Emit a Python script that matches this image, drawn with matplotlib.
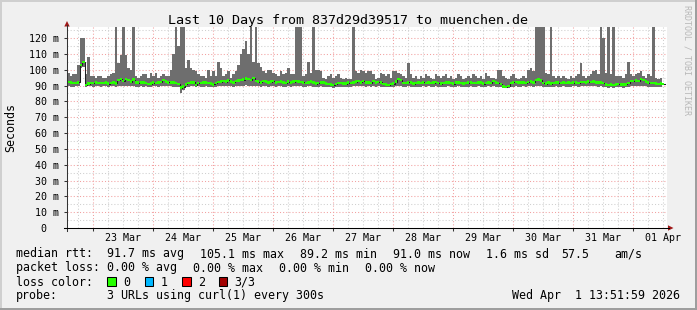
import numpy as np
import pandas as pd
import matplotlib
matplotlib.use("Agg")
import matplotlib.pyplot as plt
import matplotlib.dates as mdates
import matplotlib.ticker as mticker
from matplotlib.patches import Rectangle, Polygon
from matplotlib.lines import Line2D

nan = np.nan

# ---------------- data (hourly values, ms) ----------------
smoke_max = [
    98, 96, 97, 97, 103, 120, 120, 97, 108, 96,
    96, 95, 96, 96, 95, 95, 96, 97, 98, 150,
    104, 109, 150, 109, 101, 100, 150, 96, 95, 96,
    97, 97, 95, 98, 96, 98, 95, 96, 97, 96,
    96, 100, 110, 150, 115, 150, 150, 101, 106, 101,
    100, 99, 97, 96, 96, 95, 100, 96, 99, 96,
    105, 101, 96, 97, 99, 95, 97, 99, 103, 110,
    113, 118, 110, 150, 105, 150, 104, 102, 99, 98,
    100, 100, 98, 97, 96, 99, 97, 98, 101, 97,
    97, 150, 150, 150, 96, 97, 105, 98, 150, 100,
    100, 99, 95, 94, 96, 97, 95, 96, 97, 95,
    94, 95, 94, 94, 150, 99, 98, 100, 99, 98,
    99, 99, 97, 94, 95, 98, 97, 96, 97, 95,
    99, 99, 98, 97, 96, 95, 104, 97, 95, 96,
    94, 96, 95, 97, 96, 95, 94, 97, 96, 95,
    96, 97, 95, 96, 94, 95, 97, 96, 94, 95,
    96, 95, 97, 96, 95, 96, 94, 98, 96, 95,
    95, 94, 100, 100, 96, 95, 94, 96, 97, 95,
    94, 95, 96, 95, 100, 101, 99, 150, 150, 150,
    150, 98, 97, 150, 96, 95, 96, 95, 96, 95,
    94, 96, 95, 96, 97, 104, 96, 95, 96, 97,
    99, 100, 97, 150, 120, 98, 150, 97, 150, 96,
    96, 96, 95, 97, 105, 97, 96, 97, 98, 99,
    96, 95, 97, 96, 150, 95, 94, 95, 99, nan,
]

smoke_min = [
    89.5, 89.3, 89.4, 89.6, 89.5, 101.0, 102.0, 89.2, 89.5, 89.6,
    89.4, 89.5, 89.6, 89.3, 89.5, 89.6, 89.4, 89.5, 89.8, 89.4,
    89.6, 90.0, 89.8, 89.5, 89.6, 89.7, 89.5, 89.4, 89.3, 89.5,
    89.4, 89.5, 89.2, 89.4, 89.6, 89.5, 89.3, 89.5, 89.6, 89.8,
    89.5, 89.6, 89.4, 89.3, 89.0, 85.5, 87.0, 89.0, 89.4, 89.5,
    89.6, 89.3, 89.5, 89.4, 89.2, 89.5, 89.4, 89.3, 89.0, 89.4,
    89.5, 89.6, 89.8, 89.5, 89.7, 89.6, 89.4, 89.5, 89.8, 90.0,
    90.0, 90.2, 89.8, 89.7, 90.0, 89.6, 89.5, 89.4, 89.6, 89.5,
    89.4, 89.6, 89.5, 89.4, 89.5, 89.6, 89.4, 89.3, 89.5, 89.4,
    89.6, 89.8, 89.7, 89.5, 89.4, 89.3, 89.5, 89.6, 89.4, 89.2,
    89.3, 89.5, 89.4, 89.0, 88.8, 88.9, 88.6, 89.0, 89.2, 89.3,
    89.2, 89.1, 89.4, 89.3, 89.5, 89.6, 89.8, 89.5, 89.6, 89.4,
    89.5, 89.3, 89.6, 89.4, 89.5, 89.4, 89.0, 88.9, 88.8, 89.0,
    89.2, 89.5, 89.8, 89.6, 89.4, 89.3, 89.5, 89.4, 89.2, 89.3,
    89.4, 89.3, 89.5, 89.4, 89.5, 89.3, 89.4, 89.6, 89.4, 89.2,
    89.3, 89.4, 89.5, 89.3, 89.2, 89.4, 89.5, 89.4, 89.2, 89.3,
    89.4, 89.5, 89.3, 89.4, 89.5, 89.4, 89.2, 89.3, 89.5, 89.3,
    89.6, 89.4, 89.3, 89.0, 88.5, 88.3, 88.6, 89.2, 89.4, 89.5,
    89.4, 89.3, 89.5, 89.4, 89.6, 89.5, 89.4, 89.8, 90.0, 89.7,
    89.3, 89.2, 89.4, 89.1, 89.3, 89.5, 89.4, 89.3, 89.5, 89.2,
    89.4, 89.3, 89.5, 89.6, 89.4, 89.6, 89.7, 89.5, 89.6, 89.5,
    89.7, 89.5, 89.4, 89.5, 89.3, 88.8, 88.7, 88.9, 88.6, 88.9,
    89.0, 88.8, 88.7, 88.9, 89.2, 89.6, 89.8, 89.9, 89.7, 90.0,
    89.8, 89.5, 89.3, 89.2, 89.2, 89.0, 88.9, 89.1, 88.8, nan,
]

median_rtt = [
    92.2, 92.0, 91.5, 91.6, 92.0, 103.0, 105.0, 90.5, 91.2, 91.6,
    91.5, 91.8, 91.5, 91.6, 91.5, 91.8, 91.3, 91.6, 92.0, 91.4,
    93.5, 94.2, 93.0, 94.0, 93.5, 92.5, 93.8, 92.0, 91.8, 92.0,
    91.8, 91.5, 91.0, 91.3, 91.8, 91.5, 92.0, 92.3, 93.5, 92.5,
    92.0, 91.8, 92.0, 91.5, 91.0, 88.7, 89.3, 90.8, 91.5, 91.8,
    92.0, 90.5, 91.6, 91.5, 91.8, 92.0, 91.6, 91.3, 90.8, 91.5,
    92.2, 92.5, 93.0, 92.5, 93.3, 92.5, 92.0, 92.8, 93.2, 93.5,
    93.8, 94.5, 94.0, 93.5, 94.8, 93.0, 92.5, 92.0, 93.0, 92.5,
    92.0, 92.5, 92.8, 92.0, 92.2, 92.5, 92.0, 91.6, 92.4, 92.0,
    92.5, 93.0, 92.5, 92.2, 92.0, 91.5, 92.0, 92.6, 91.8, 91.2,
    91.5, 92.0, 91.8, 91.2, 91.0, 90.8, 90.3, 91.0, 91.5, 91.6,
    91.4, 91.2, 91.8, 91.5, 92.0, 92.4, 93.0, 92.0, 92.8, 91.8,
    92.0, 91.6, 93.0, 92.0, 92.2, 92.0, 91.0, 90.8, 90.5, 91.0,
    91.2, 92.5, 94.0, 93.5, 91.6, 91.5, 92.0, 91.8, 91.2, 91.5,
    91.8, 91.5, 92.0, 91.6, 92.0, 91.5, 91.8, 92.2, 91.6, 91.2,
    91.5, 91.8, 92.0, 91.5, 91.3, 91.8, 92.0, 91.6, 91.4, 91.5,
    91.8, 92.0, 91.6, 91.5, 92.0, 91.8, 91.3, 91.6, 92.0, 91.5,
    93.0, 91.8, 91.5, 91.0, 89.5, 89.2, 89.8, 91.5, 92.0, 92.2,
    92.0, 91.8, 92.0, 91.6, 92.2, 92.5, 92.0, 93.5, 93.8, 93.2,
    91.5, 91.3, 91.8, 91.2, 91.5, 92.0, 91.8, 91.6, 92.0, 91.5,
    91.8, 91.5, 91.8, 92.0, 91.6, 92.2, 92.3, 92.0, 92.4, 92.2,
    92.5, 92.0, 91.8, 92.0, 91.5, 90.6, 90.5, 90.8, 90.5, 90.8,
    91.0, 90.8, 90.6, 90.8, 91.5, 92.8, 93.0, 93.2, 93.0, 94.0,
    93.5, 92.5, 91.8, 91.5, 91.5, 91.2, 91.0, 91.3, 91.0, nan,
]

y_ticks = [0, 10, 20, 30, 40, 50, 60, 70, 80, 90, 100, 110, 120]
title = "Last 10 Days from 837d29d39517 to muenchen.de"
legend_rtt = [("median rtt:  91.7 ms avg", 16), ("105.1 ms max", 200), ("89.2 ms min", 300),
              ("91.0 ms now", 393), ("1.6 ms sd", 486), ("57.5", 561), ("am/s", 614)]
legend_loss = [("packet loss: 0.00 % avg", 16), ("0.00 % max", 193), ("0.00 % min", 279),
               ("0.00 % now", 365)]
loss_labels = ["0", "1", "2", "3/3"]
loss_colors = ["#26ff00", "#00b8ff", "#ff0000", "#a10000"]
probe_text = "3 URLs using curl(1) every 300s"
stamp = "Wed Apr  1 13:51:59 2026"

# ---------------- figure ----------------
W, H = 697, 310
MONO = "DejaVu Sans Mono"
fig = plt.figure(figsize=(W / 100, H / 100), dpi=100)
fig.patch.set_facecolor("#f0f0f0")


def fx(x):
    return x / W


def fy(y):
    return 1 - y / H


def prect(x, y, w, h, **kw):
    fig.patches.append(Rectangle((fx(x), fy(y + h)), w / W, h / H,
                                 transform=fig.transFigure, **kw))


# border shading
prect(0, 0, W, 2, facecolor="#cfcfcf", edgecolor="none")
prect(0, 0, 2, H, facecolor="#cfcfcf", edgecolor="none")
prect(0, H - 2, W, 2, facecolor="#9e9e9e", edgecolor="none")
prect(W - 2, 0, 2, H, facecolor="#9e9e9e", edgecolor="none")

AX_L, AX_R, AX_T, AX_B = 67, 667, 27, 228
ax = fig.add_axes([fx(AX_L), fy(AX_B), (AX_R - AX_L) / W, (AX_B - AX_T) / H])
ax.set_facecolor("white")

start = pd.Timestamp("2026-03-22 13:30")
edges = pd.date_range(start, periods=len(median_rtt) + 1, freq="h")
xe = mdates.date2num(edges.to_pydatetime())
xs = xe[:-1]
widths = np.diff(xe)


def ext(a):
    a = np.asarray(a, dtype=float)
    return np.append(a, a[-1])


# smoke
ax.fill_between(xe, ext(smoke_min), ext(smoke_max), step="post",
                facecolor="#6e6e6e", edgecolor="none", linewidth=0, zorder=2)
# median line + loss-coloured band
ax.step(xe, ext(median_rtt), where="post", color="#202020", lw=0.75, zorder=3)
med = np.asarray(median_rtt, dtype=float)
ax.bar(xs, 1.6, bottom=med - 0.8, width=widths, align="edge",
       color=loss_colors[0], linewidth=0, zorder=4)

ax.set_xlim(xe[0], xe[-1])
ax.set_ylim(0, 127)

# grid / ticks
ax.xaxis.set_major_locator(mdates.DayLocator())
ax.xaxis.set_major_formatter(mticker.NullFormatter())
ax.xaxis.set_minor_locator(mdates.HourLocator(byhour=[6, 12, 18]))


def xfmt(v, pos):
    d = mdates.num2date(v)
    return d.strftime("%d %b") if d.hour == 12 else ""


ax.xaxis.set_minor_formatter(mticker.FuncFormatter(xfmt))

ax.yaxis.set_major_locator(mticker.FixedLocator(y_ticks))
ax.yaxis.set_minor_locator(mticker.MultipleLocator(5))
ax.yaxis.set_major_formatter(mticker.FuncFormatter(
    lambda v, p: f"{int(v)} m" if v > 0 else "0  "))

ax.set_axisbelow(True)
ax.grid(which="major", color="#f2a0a0", linestyle=(0, (1, 2)), lw=0.75)
ax.grid(which="minor", color="#cfcfcf", linestyle=(0, (1, 2)), lw=0.75)

ax.tick_params(axis="x", which="major", length=2.2, width=0.75, color="#333333",
               direction="out")
ax.tick_params(axis="x", which="minor", length=0, pad=3.4,
               labelsize=7.2, labelfontfamily=MONO)
ax.tick_params(axis="y", which="major", length=2.2, width=0.75, color="#333333",
               direction="out", pad=3.3, labelsize=7.2, labelfontfamily=MONO)
ax.tick_params(axis="y", which="minor", length=0)

for s in ax.spines.values():
    s.set_visible(False)

# axis lines with arrows
fig.lines.append(Line2D([fx(AX_L), fx(AX_L)], [fy(AX_B + 3), fy(25)],
                        transform=fig.transFigure, color="#333333", lw=0.75))
fig.lines.append(Line2D([fx(AX_L - 3), fx(669)], [fy(AX_B), fy(AX_B)],
                        transform=fig.transFigure, color="#000000", lw=0.75))
fig.patches.append(Polygon([(fx(64.3), fy(26.5)), (fx(69.7), fy(26.5)), (fx(67), fy(21))],
                           closed=True, transform=fig.transFigure,
                           facecolor="#a01818", edgecolor="none"))
fig.patches.append(Polygon([(fx(668), fy(225.3)), (fx(668), fy(230.7)), (fx(673.5), fy(228))],
                           closed=True, transform=fig.transFigure,
                           facecolor="#a01818", edgecolor="none"))

# texts
fig.text(fx(347.5), fy(24), title, ha="center", va="baseline",
         family=MONO, size=9.6, color="black")
fig.text(fx(10.5), fy(127), "Seconds", ha="center", va="center",
         rotation=90, family=MONO, size=8.4, color="black")
fig.text(fx(687.5), fy(60), "RRDTOOL / TOBI OETIKER", ha="center", va="center",
         rotation=270, family=MONO, size=6.0, color="#b8b8b8")

LEG = dict(ha="left", va="baseline", family=MONO, size=8.4, color="black")
for txt, x in legend_rtt:
    fig.text(fx(x), fy(257.5), txt, **LEG)
for txt, x in legend_loss:
    fig.text(fx(x), fy(271.5), txt, **LEG)

fig.text(fx(16), fy(285.5), "loss color:", **LEG)
box_x = [107.3, 145, 182.3, 219]
for lab, col, bx in zip(loss_labels, loss_colors, box_x):
    prect(bx, 277.3, 8.4, 8.4, facecolor=col, edgecolor="black", linewidth=0.75)
    fig.text(fx(bx + 15.5), fy(285.5), lab, **LEG)

fig.text(fx(16), fy(299.5), "probe:", **LEG)
fig.text(fx(107), fy(299.5), probe_text, **LEG)
fig.text(fx(680.5), fy(299.5), stamp, ha="right", va="baseline",
         family=MONO, size=8.4, color="black")

fig.savefig("out.png", dpi=100, facecolor=fig.get_facecolor())
